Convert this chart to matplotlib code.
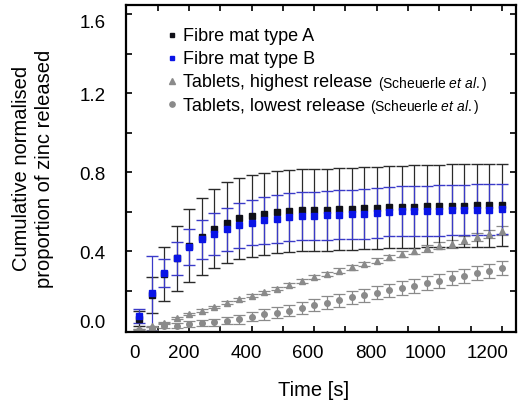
import matplotlib
matplotlib.use("Agg")
import matplotlib.pyplot as plt
from matplotlib.lines import Line2D

plt.rcParams['font.family'] = ['Liberation Sans', 'DejaVu Sans']
plt.rcParams['mathtext.fontset'] = 'custom'
plt.rcParams['mathtext.rm'] = 'Liberation Sans'
plt.rcParams['mathtext.it'] = 'Liberation Sans:italic'

# sampling times [s]
time_s = [40, 80, 120, 160, 200, 240, 280, 320, 360, 400,
          440, 480, 520, 560, 600, 640, 680, 720, 760, 800,
          840, 880, 920, 960, 1000, 1040, 1080, 1120, 1160, 1200]

# fibre mat type A (black)
mat_a = [0.06, 0.18, 0.285, 0.365, 0.43, 0.475, 0.515, 0.546, 0.568, 0.58,
         0.59, 0.598, 0.605, 0.608, 0.61, 0.612, 0.615, 0.617, 0.62, 0.62,
         0.624, 0.626, 0.627, 0.629, 0.63, 0.631, 0.632, 0.633, 0.634, 0.635]
mat_a_err = [0.04, 0.09, 0.135, 0.165, 0.185, 0.195, 0.2, 0.205, 0.206, 0.207,
             0.208, 0.208, 0.208, 0.208, 0.208, 0.208, 0.208, 0.208, 0.208, 0.208,
             0.209, 0.209, 0.209, 0.209, 0.209, 0.21, 0.21, 0.21, 0.21, 0.21]

# fibre mat type B (blue)
mat_b = [0.075, 0.188, 0.29, 0.365, 0.423, 0.462, 0.489, 0.512, 0.533, 0.546,
         0.558, 0.565, 0.573, 0.578, 0.58, 0.583, 0.585, 0.588, 0.59, 0.595,
         0.602, 0.604, 0.605, 0.606, 0.607, 0.609, 0.61, 0.611, 0.612, 0.614]
mat_b_err = [0.035, 0.19, 0.07, 0.082, 0.09, 0.098, 0.107, 0.109, 0.114, 0.115,
             0.118, 0.12, 0.121, 0.122, 0.123, 0.124, 0.124, 0.125, 0.125, 0.126,
             0.126, 0.127, 0.127, 0.127, 0.128, 0.128, 0.128, 0.128, 0.128, 0.128]

# tablets, highest release (triangles)
tab_high = [0.005, 0.02, 0.04, 0.062, 0.082, 0.1, 0.12, 0.141, 0.158, 0.175,
            0.193, 0.212, 0.229, 0.249, 0.271, 0.285, 0.303, 0.32, 0.337, 0.353,
            0.37, 0.386, 0.401, 0.416, 0.428, 0.438, 0.458, 0.475, 0.487, 0.505]
tab_high_err = [0.003, 0.004, 0.004, 0.005, 0.005, 0.006, 0.006, 0.007, 0.007, 0.008,
                0.008, 0.009, 0.009, 0.01, 0.01, 0.011, 0.011, 0.012, 0.012, 0.013,
                0.014, 0.015, 0.016, 0.017, 0.018, 0.019, 0.02, 0.02, 0.021, 0.022]

# tablets, lowest release (circles)
tab_low = [0.003, 0.01, 0.024, 0.024, 0.033, 0.036, 0.041, 0.05, 0.057, 0.07,
           0.082, 0.09, 0.1, 0.112, 0.129, 0.141, 0.153, 0.168, 0.178, 0.191,
           0.203, 0.214, 0.227, 0.239, 0.25, 0.264, 0.276, 0.29, 0.301, 0.315]
tab_low_err = [0.006, 0.008, 0.01, 0.012, 0.015, 0.016, 0.018, 0.02, 0.022, 0.024,
               0.027, 0.028, 0.029, 0.03, 0.031, 0.032, 0.033, 0.033, 0.034, 0.034,
               0.034, 0.035, 0.035, 0.035, 0.035, 0.036, 0.036, 0.036, 0.036, 0.036]

# tick label text and where it sits in the original figure
x_labels = ['0', '200', '400', '600', '800', '1000', '1200']
x_label_pos = [43, 235, 432, 631, 832, 1024, 1222]
y_labels = ['0.0', '0.4', '0.8', '1.2', '1.6']
y_label_pos = [0.045, 0.394, 0.796, 1.197, 1.563]

fig = plt.figure(figsize=(5.19, 4.0), dpi=100)
ax = fig.add_axes([0.2437, 0.17, 0.7497, 0.8175])

grey = '#8a8a8a'
ax.errorbar(time_s, tab_low, yerr=tab_low_err, fmt='o', ms=4, color=grey,
            ecolor=grey, elinewidth=0.9, capsize=4, capthick=0.9)
ax.errorbar(time_s, tab_high, yerr=tab_high_err, fmt='^', ms=4.2, color=grey,
            ecolor=grey, elinewidth=0.9, capsize=4, capthick=0.9)
ax.errorbar(time_s, mat_a, yerr=mat_a_err, fmt='s', ms=4, color='#101018',
            ecolor='#2a2a2a', elinewidth=0.9, capsize=4.5, capthick=1.0)
ax.errorbar(time_s, mat_b, yerr=mat_b_err, fmt='s', ms=4, color='#0a14e6',
            ecolor='#3a3ac8', elinewidth=0.9, capsize=4.5, capthick=1.0)

ax.set_xlim(0, 1244)
ax.set_ylim(-0.008, 1.648)

ax.set_xticks(x_label_pos, x_labels, fontsize=13.5)
ax.set_xticks(range(100, 1201, 100), minor=True)
ax.set_yticks(y_label_pos, y_labels, fontsize=13.5)
ax.set_yticks([0.2, 0.4, 0.6, 0.8, 1.0, 1.2, 1.4, 1.6], minor=True)
for lab in ax.get_xticklabels():
    lab.set_ha('right')
ax.tick_params(which='major', length=0)
ax.tick_params(axis='x', which='major', pad=9)
ax.tick_params(axis='y', which='major', pad=15)
ax.tick_params(which='minor', direction='in', length=4, width=1.2,
               top=True, right=True)
for sp in ax.spines.values():
    sp.set_linewidth(1.6)

ax.set_xlabel('Time [s]', fontsize=14.5, labelpad=14, x=0.48)
ax.set_ylabel('Cumulative normalised\nproportion of zinc released',
              fontsize=14.5, labelpad=18, linespacing=1.3)

handles = [Line2D([], [], ls='', marker='s', ms=3.5, color='#101018'),
           Line2D([], [], ls='', marker='s', ms=3.5, color='#0a14e6'),
           Line2D([], [], ls='', marker='^', ms=3.8, color=grey),
           Line2D([], [], ls='', marker='o', ms=3.8, color=grey)]
names = ['Fibre mat type A', 'Fibre mat type B',
         'Tablets, highest release', 'Tablets, lowest release']
leg = ax.legend(handles, names, loc='upper left', frameon=False, fontsize=13,
                bbox_to_anchor=(0.075, 0.962), handlelength=0.6,
                handletextpad=0.3, labelspacing=0.33, borderaxespad=0.2)

fig.canvas.draw()
for t in leg.get_texts()[2:]:
    ax.annotate(r'(Scheuerle $\mathit{et\ al.}$)', xy=(1, 0), xycoords=t,
                xytext=(4, -1.5), textcoords='offset points', fontsize=10,
                va='bottom', zorder=10)

fig.savefig('out.png', dpi=100)
